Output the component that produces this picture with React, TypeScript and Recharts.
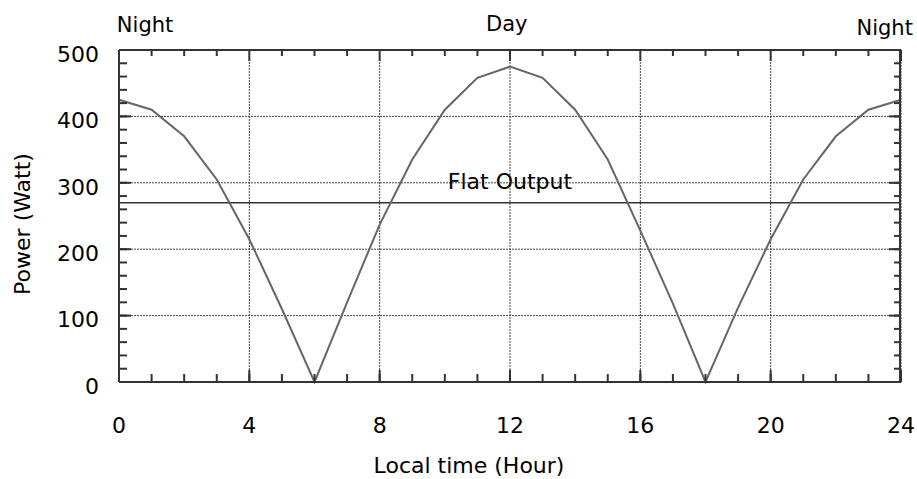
import React from 'react';
import {
  ComposedChart,
  Line,
  Scatter,
  XAxis,
  YAxis,
  CartesianGrid,
  ReferenceLine,
  ReferenceDot,
} from 'recharts';

const hours = [0, 1, 2, 3, 4, 5, 6, 7, 8, 9, 10, 11, 12, 13, 14, 15, 16, 17, 18, 19, 20, 21, 22, 23, 24];
const power = [425, 410, 370, 305, 215, 110, 0, 120, 237, 335, 410, 458, 475, 458, 410, 335, 228, 118, 0, 112, 215, 305, 370, 410, 425];
const flatOutput = 270;

const xDomain = [0, 24];
const yDomain = [0, 500];
const xMajorTicks = [0, 4, 8, 12, 16, 20, 24];
const xMinorTicks = hours;
const yMajorTicks = [0, 100, 200, 300, 400, 500];
const yMinorTicks = [0, 20, 40, 60, 80, 100, 120, 140, 160, 180, 200, 220, 240, 260, 280, 300, 320, 340, 360, 380, 400, 420, 440, 460, 480, 500];

// period labels above the plot (hour, text)
const periodHours = [0.8, 11.9, 23.5];
const periodNames = ['Night', 'Day', 'Night'];
const periodOffsets = [18, 19.5, 15];

const data = hours.map((h, i) => ({ hour: h, power: power[i] }));
// top frame of the plot box and the spots where its ticks hang
const topEdge = xDomain.map((h) => ({ hour: h, edge: yDomain[1] }));
const topTicks = xMinorTicks.map((h) => ({ hour: h, edge: yDomain[1] }));

const FONT = '"DejaVu Sans", Verdana, sans-serif';
const AXIS = '#333333';
const noLabel = () => '';
const tickStroke = { stroke: AXIS, strokeWidth: 2 };

// eslint-disable-next-line @typescript-eslint/no-explicit-any
function TopTick(p: any) {
  const len = p.payload && p.payload.hour % 4 === 0 ? 11 : 6;
  return <line x1={p.cx} x2={p.cx} y1={p.cy} y2={p.cy + len} stroke={AXIS} strokeWidth={2} />;
}

export default function App() {
  return (
    <div style={{ position: 'absolute', left: 0, top: 0, width: 917, height: 479, background: '#fff', fontFamily: FONT }}>
      <ComposedChart width={917} height={479} data={data} margin={{ top: 50, right: 16, bottom: 0, left: 19 }}>
        <CartesianGrid stroke="#444" strokeDasharray="2 1" />

        {/* main axes with labels */}
        <XAxis
          dataKey="hour"
          type="number"
          domain={xDomain}
          ticks={xMajorTicks}
          interval={0}
          height={97}
          tickLine={false}
          tickSize={0}
          tickMargin={35}
          axisLine={{ stroke: AXIS, strokeWidth: 2 }}
          tick={{ fill: '#000', fontSize: 22 }}
          label={{ value: 'Local time (Hour)', position: 'insideBottom', offset: 6, dx: -41, fill: '#000', fontSize: 22 }}
        />
        <YAxis
          type="number"
          domain={yDomain}
          ticks={yMajorTicks}
          interval={0}
          width={100}
          tickLine={false}
          tickSize={0}
          tickMargin={20}
          axisLine={{ stroke: AXIS, strokeWidth: 2 }}
          tick={{ fill: '#000', fontSize: 22, dy: 4 }}
          label={{ value: 'Power (Watt)', angle: -90, position: 'center', dx: -47, dy: 8, fill: '#000', fontSize: 22 }}
        />

        {/* inward tick marks on bottom, left and right */}
        <XAxis xAxisId="bMinor" dataKey="hour" type="number" domain={xDomain} allowDataOverflow ticks={xMinorTicks} interval={0} mirror height={1} tickFormatter={noLabel} axisLine={false} tickSize={7} tickLine={tickStroke} />
        <XAxis xAxisId="bMajor" dataKey="hour" type="number" domain={xDomain} allowDataOverflow ticks={xMajorTicks} interval={0} mirror height={1} tickFormatter={noLabel} axisLine={false} tickSize={12} tickLine={tickStroke} />
        <YAxis yAxisId="lMinor" type="number" domain={yDomain} allowDataOverflow ticks={yMinorTicks} interval={0} mirror width={1} tickFormatter={noLabel} axisLine={false} tickSize={7} tickLine={tickStroke} />
        <YAxis yAxisId="lMajor" type="number" domain={yDomain} allowDataOverflow ticks={yMajorTicks} interval={0} mirror width={1} tickFormatter={noLabel} axisLine={false} tickSize={12} tickLine={tickStroke} />
        <YAxis yAxisId="rMinor" orientation="right" type="number" domain={yDomain} allowDataOverflow ticks={yMinorTicks} interval={0} mirror width={1} tickFormatter={noLabel} axisLine={tickStroke} tickSize={6} tickLine={tickStroke} />
        <YAxis yAxisId="rMajor" orientation="right" type="number" domain={yDomain} allowDataOverflow ticks={yMajorTicks} interval={0} mirror width={1} tickFormatter={noLabel} axisLine={false} tickSize={12} tickLine={tickStroke} />

        {/* top frame and its ticks */}
        <Line data={topEdge} dataKey="edge" type="linear" stroke={AXIS} strokeWidth={2} dot={false} activeDot={false} isAnimationActive={false} />
        <Scatter data={topTicks} dataKey="edge" shape={TopTick} isAnimationActive={false} />

        <ReferenceLine
          y={flatOutput}
          stroke={AXIS}
          strokeWidth={1.5}
          label={{ value: 'Flat Output', position: 'top', offset: 14, fill: '#000', fontSize: 22 }}
        />

        {periodHours.map((h, i) => (
          <ReferenceDot
            key={i}
            x={h}
            y={500}
            r={0}
            fill="none"
            stroke="none"
            label={{ value: periodNames[i], position: 'top', offset: periodOffsets[i], fill: '#000', fontSize: 21 }}
          />
        ))}

        <Line
          type="linear"
          dataKey="power"
          stroke="#666666"
          strokeWidth={2}
          dot={false}
          activeDot={false}
          isAnimationActive={false}
        />
      </ComposedChart>
    </div>
  );
}
